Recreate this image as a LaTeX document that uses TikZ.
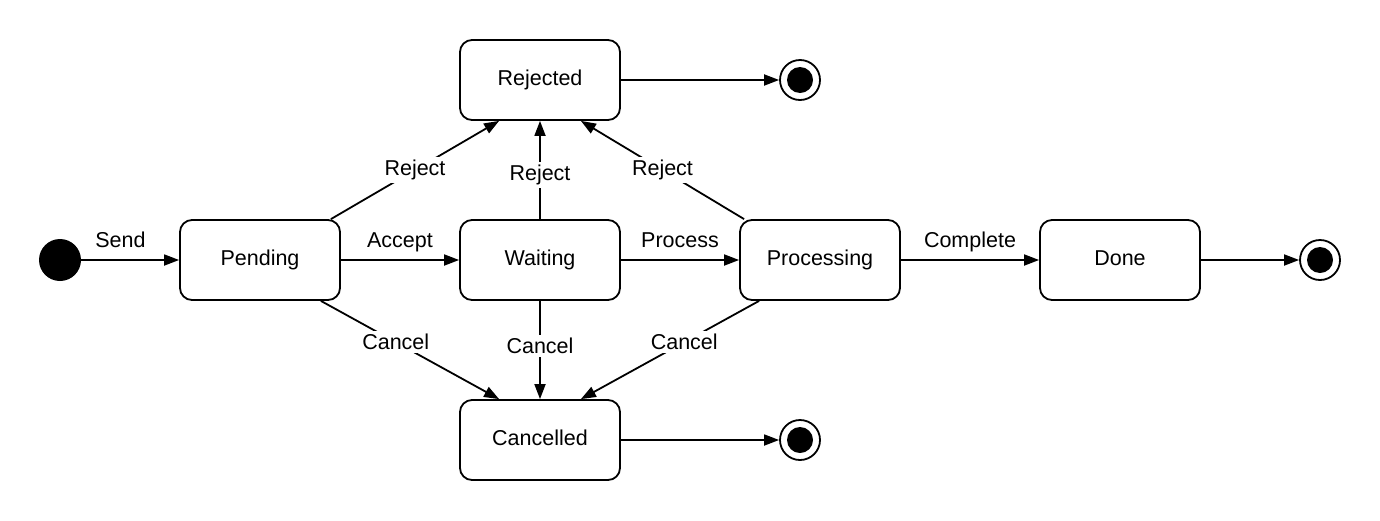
\documentclass[tikz,border=0pt]{standalone}
\usepackage{fontspec}
\setmainfont{Liberation Sans}
\usetikzlibrary{arrows.meta,calc}
\newcommand\diafont{\fontsize{21.5}{24}\selectfont}
\begin{document}
\begin{tikzpicture}[x=1pt,y=-1pt,
  state/.style={draw, line width=1.8pt, rounded corners=12pt, minimum width=160pt, minimum height=80pt, inner sep=0pt, text height=15.5pt, text depth=5.5pt, font=\diafont},
  initst/.style={circle, fill=black, minimum size=42pt, inner sep=0pt},
  finst/.style={circle, draw, line width=1.8pt, minimum size=40pt, inner sep=0pt,
    path picture={\fill (path picture bounding box.center) circle[radius=13pt];}},
  arr/.style={line width=1.8pt, -{Triangle[length=15pt,width=11pt]}},
  toplab/.style={font=\diafont, anchor=base, yshift=13pt, inner sep=0pt},
  lab/.style={font=\diafont, fill=white, inner sep=3pt}]
\useasboundingbox (0,0) rectangle (1380,520);
\node[initst] (init) at (60,260) {};
\node[state] (pend) at (260,260) {Pending};
\node[state] (wait) at (540,260) {Waiting};
\node[state] (proc) at (820,260) {Processing};
\node[state] (done) at (1120,260) {Done};
\node[state] (rej) at (540,80) {Rejected};
\node[state] (canc) at (540,440) {Cancelled};
\node[finst] (f1) at (800,80) {};
\node[finst] (f2) at (800,440) {};
\node[finst] (f3) at (1320,260) {};
\draw[arr] (init) -- node[toplab, pos=0.4] {Send} (pend);
\draw[arr] (pend) -- node[toplab] {Accept} (wait);
\draw[arr] (wait) -- node[toplab] {Process} (proc);
\draw[arr] (proc) -- node[toplab] {Complete} (done);
\draw[arr] (done) -- (f3);
\draw[arr] (rej) -- (f1);
\draw[arr] (canc) -- (f2);
\draw[arr] ($(pend.north east)+(-10,0)$) -- node[lab, pos=0.5] {Reject} ($(rej.south west)+(40,0)$);
\draw[arr] (wait.north) -- node[lab, pos=0.45] {Reject} (rej.south);
\draw[arr] ($(proc.north west)+(5,0)$) -- node[lab, pos=0.5] {Reject} ($(rej.south east)+(-40,0)$);
\draw[arr] ($(pend.south east)+(-20,0)$) -- node[lab, pos=0.42] {Cancel} ($(canc.north west)+(40,0)$);
\draw[arr] (wait.south) -- node[lab, pos=0.46] {Cancel} (canc.north);
\draw[arr] ($(proc.south west)+(20,0)$) -- node[lab, pos=0.42] {Cancel} ($(canc.north east)+(-40,0)$);
\end{tikzpicture}
\end{document}
